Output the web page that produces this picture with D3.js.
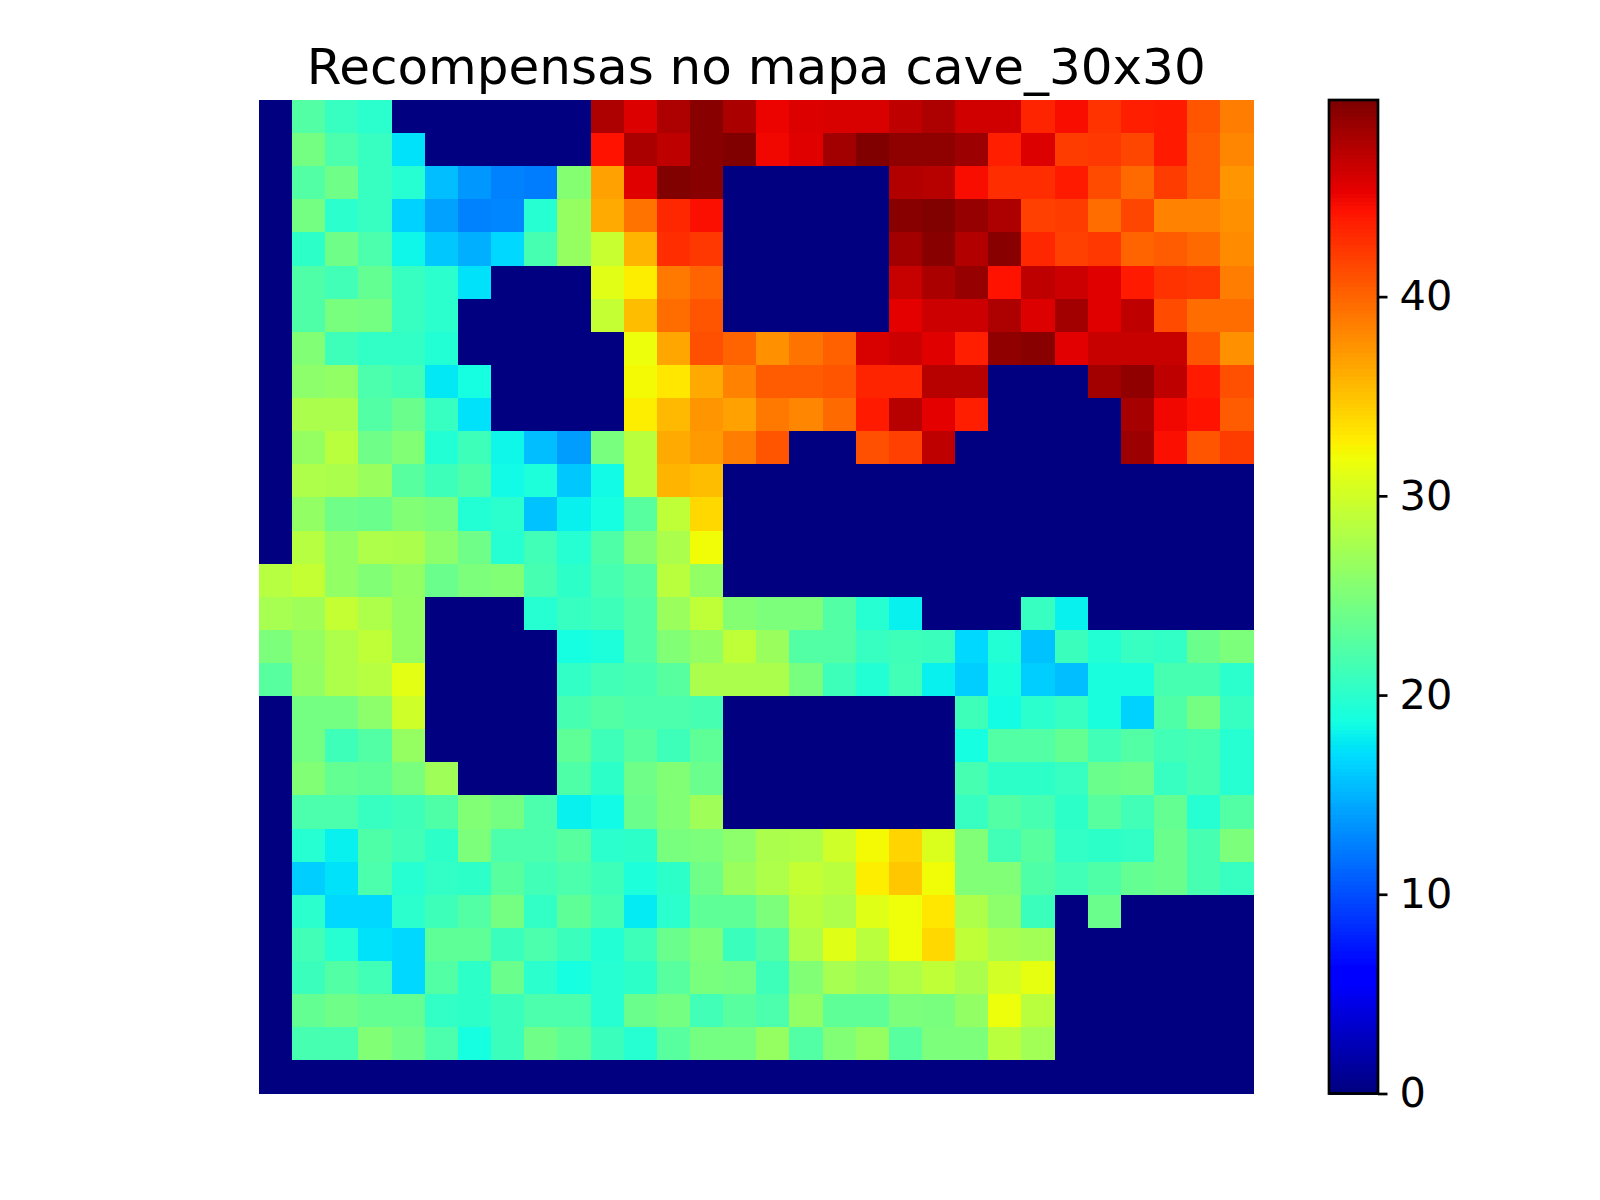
<!DOCTYPE html>
<html>
<head>
<meta charset="utf-8">
<title>Recompensas no mapa cave_30x30</title>
<script src="https://cdn.jsdelivr.net/npm/d3@7"></script>
<style>
  html, body { margin: 0; padding: 0; background: #fff; }
  text { font-family: "DejaVu Sans", sans-serif; fill: #000; }
</style>
</head>
<body>
<svg id="svg"></svg>
<script>
// Rewards, one array per map row (top to bottom)
const row00 = [0,22.5,20.7,20,0,0,0,0,0,0,47.9,45.9,47.9,49.5,48,45.2,45.9,46,46,47.2,47.9,46.4,46.4,43.5,44.7,42.7,43.8,44,40.9,38.8];
const row01 = [0,24.5,22,20.7,17.3,0,0,0,0,0,44.4,48,47.2,49.5,49.87,45,45.7,48.4,49.87,49.2,49.2,48.6,43.8,45.9,42.2,42.5,41.7,44,40.6,38.3];
const row02 = [0,22.5,24.2,20.7,19.7,15.5,13.6,12.6,12.3,25.5,36.9,45.7,49.8,49.5,0,0,0,0,0,47.7,47.5,44.7,43,43,44,41.4,39.8,42.2,40.6,37.5];
const row03 = [0,24.5,20,20.7,16.5,14.1,12.6,12.8,19.7,26.5,36.4,39.3,43.3,44.6,0,0,0,0,0,49.5,49.8,48.9,47.9,42,42.2,39.6,41.7,38.5,38.5,37.8];
const row04 = [0,20.2,24.2,22,18.3,16,14.8,16.8,21.7,26.5,29.5,35.9,43,42.5,0,0,0,0,0,48.4,49.5,47.7,49.5,43.3,42,42.5,40.1,40.6,39.8,38];
const row05 = [0,22.2,21.4,23.5,20.7,20,17.3,0,0,0,31.1,32.8,39,40.1,0,0,0,0,0,46.8,48,48.9,44.4,47.2,46.6,45.7,44,42.7,42.5,38.8];
const row06 = [0,22.2,24.8,24.5,20.7,20,0,0,0,0,29.3,35.4,39.6,40.9,0,0,0,0,0,45.5,46.6,46.6,47.9,45.9,48.4,45.7,47.2,41.4,39.6,39.6];
const row07 = [0,25.3,21.2,20.5,20.5,19.5,0,0,0,0,0,31.8,36.6,41.2,40.1,37.8,39.3,40.3,46,46.6,45.7,43.8,49.1,49.5,45.6,46.8,46.8,46.8,40.9,37.8];
const row08 = [0,26,26.3,22,21.4,17.6,18.8,0,0,0,0,32.2,33.2,36.4,38.5,40.6,40.6,40.9,43.5,43.5,47.5,47.5,0,0,0,48.4,49.1,47.2,44,41.2];
const row09 = [0,27.8,27.8,22.5,23.9,20.7,17.3,0,0,0,0,32.8,35.6,37.5,36.9,39,38.3,39.8,44,47.5,45.5,43.8,0,0,0,0,48.2,45,44.4,40.6];
const row10 = [0,26.5,28.7,24.2,25.3,19.5,21.2,18.3,15.5,13.9,24.8,28.7,36.4,37.2,38.8,40.9,0,0,41.2,42,47.2,0,0,0,0,0,48.6,44.6,40.9,42.2];
const row11 = [0,28,27.8,26.8,22.8,21.2,22.2,18.5,19.2,16,18.5,28.7,35.9,35.4,0,0,0,0,0,0,0,0,0,0,0,0,0,0,0,0];
const row12 = [0,26.3,24.2,23.9,25.3,24.8,19.5,20,15.7,18,18.8,22.8,29,34,0,0,0,0,0,0,0,0,0,0,0,0,0,0,0,0];
const row13 = [0,28.5,26.3,28,27.8,26,24.2,19.7,21.4,19.7,22.2,25.5,27.8,32,0,0,0,0,0,0,0,0,0,0,0,0,0,0,0,0];
const row14 = [28.5,29.3,26.3,25.3,26.3,23.9,25,25.3,21.7,20.2,21.7,22.8,28.7,26.3,0,0,0,0,0,0,0,0,0,0,0,0,0,0,0,0];
const row15 = [27.5,27.1,29.3,28,26.5,0,0,0,19.7,20.7,21.2,22.5,26.8,29,25.5,25,25,22.5,19.7,18,0,0,0,20.7,18,0,0,0,0,0];
const row16 = [25,26.5,28,29,26.5,0,0,0,0,18.8,19.2,22.5,25.3,26.3,29,26.8,22.5,22.5,20.7,21.2,21,16.8,19.5,15.7,21,19.5,20.7,20.5,23.9,25];
const row17 = [22.8,26.3,28,28.5,31.2,0,0,0,0,20.5,21.4,21.7,22.8,27.8,27.8,27.8,24.8,21.2,19.5,21.4,18,16.3,19,16.3,15.5,19,19,21.7,21.7,20];
const row18 = [0,24.5,24.5,26,30,0,0,0,0,21.7,22.5,22,22,21.7,0,0,0,0,0,0,0,21.2,18.6,20,20.7,19,16.5,22.2,24.5,20.7];
const row19 = [0,24.5,21.2,22.5,26.5,0,0,0,0,23.2,21.2,22.8,21.2,23.2,0,0,0,0,0,0,0,18.8,22.5,22.5,23.5,21.4,22.5,21.4,21.7,19.7];
const row20 = [0,25.3,23.5,23.2,24.8,27.1,0,0,0,22.2,20.2,24.2,25.3,23.9,0,0,0,0,0,0,0,21.7,20.2,20.2,20.7,23.9,24.2,20.7,21.7,19.7];
const row21 = [0,22,22,20.7,21.2,22.2,25.3,24.5,22,18,18.5,23.9,25.3,27.1,0,0,0,0,0,0,0,20.7,22.5,21.7,20.2,22.8,21.4,23.5,19.7,22.5];
const row22 = [0,19.7,18,22.2,21.4,20.2,25,22,22,22.8,20,20.2,24.8,25,26,27.8,28,30,32.2,34.2,30.7,25.2,21.4,22.8,20.5,20.2,20.5,23.9,21.7,25];
const row23 = [0,16.3,17.3,22,19.7,20.5,20.2,22.8,21.4,22,21.2,19.2,20.2,24.2,26.8,28,29.3,28.7,32.8,34.9,32,25.2,25.2,22.2,21.4,22.2,23.5,23.9,21.7,20.7];
const row24 = [0,20,16.8,16.8,20,21.2,22.5,24.5,20.5,23.2,21.7,17.7,20,23.2,23.2,25,28.7,28,31,31.9,33.2,28,26,21,0,23.9,0,0,0,0];
const row25 = [0,21.4,19.7,17.3,16.8,23.2,23.2,21,22,21,19.5,21.2,23.9,25,21,22.5,28,31,28.7,31.9,34,29,27.5,27.2,0,0,0,0,0,0];
const row26 = [0,21,22.5,21.4,16.8,22.5,20.2,23.9,20,18.8,19.7,20.2,22.8,24.8,24.5,21.2,25.3,27.5,26.8,28,29,27.8,30.2,31.4,0,0,0,0,0,0];
const row27 = [0,23.5,24.2,23.5,23.5,20.5,20.2,21,22,22,19.7,23.9,24.5,21.4,22.8,22,26.3,23.2,23.2,25,24.8,26.3,31.8,28.7,0,0,0,0,0,0];
const row28 = [0,21.7,21.7,25.3,24.2,22,18.8,21,24.2,23.2,21,19.7,22.8,24.5,24.5,26.5,22.5,25.3,26.5,22.8,25,25,28.7,27.2,0,0,0,0,0,0];
const row29 = [0,0,0,0,0,0,0,0,0,0,0,0,0,0,0,0,0,0,0,0,0,0,0,0,0,0,0,0,0,0];

const rewards = [row00,row01,row02,row03,row04,row05,row06,row07,row08,row09,
                 row10,row11,row12,row13,row14,row15,row16,row17,row18,row19,
                 row20,row21,row22,row23,row24,row25,row26,row27,row28,row29];

const colorbarTicks = [0, 10, 20, 30, 40];
const maxReward = 49.87;

// Jet colormap breakpoints, same segments matplotlib uses
const jetR = [[0, 0], [0.35, 0], [0.66, 1], [0.89, 1], [1, 0.5]];
const jetG = [[0, 0], [0.125, 0], [0.375, 1], [0.64, 1], [0.91, 0], [1, 0]];
const jetB = [[0, 0.5], [0.11, 1], [0.34, 1], [0.65, 0], [1, 0]];

function channel(stops) {
  return d3.scaleLinear().domain(stops.map(d => d[0])).range(stops.map(d => d[1] * 255));
}
const r = channel(jetR), g = channel(jetG), b = channel(jetB);
const jet = t => `rgb(${Math.round(r(t))},${Math.round(g(t))},${Math.round(b(t))})`;

const width = 1600;
const height = 1200;

const svg = d3.select('#svg')
  .attr('width', width)
  .attr('height', height)
  .style('display', 'block');

// Map area
const mapLeft = 259, mapRight = 1253.5, mapTop = 100, mapBottom = 1093.5;

const xScale = d3.scaleBand().domain(d3.range(30)).range([mapLeft, mapRight]);
const yScale = d3.scaleBand().domain(d3.range(30)).range([mapTop, mapBottom]);
const colorScale = d3.scaleSequential(jet).domain([0, maxReward]);

const cells = [];
rewards.forEach((row, i) => row.forEach((value, j) => cells.push({ i, j, value })));

svg.append('g')
  .selectAll('rect')
  .data(cells)
  .join('rect')
  .attr('x', d => xScale(d.j))
  .attr('y', d => yScale(d.i))
  .attr('width', xScale.bandwidth() + 0.5)
  .attr('height', yScale.bandwidth() + 0.5)
  .attr('shape-rendering', 'crispEdges')
  .attr('fill', d => colorScale(d.value));

// Title
svg.append('text')
  .attr('x', (mapLeft + mapRight) / 2)
  .attr('y', 83.5)
  .attr('text-anchor', 'middle')
  .attr('font-size', '50px')
  .text('Recompensas no mapa cave_30x30');

// Colorbar
const barLeft = 1329, barRight = 1378;
const barScale = d3.scaleLinear().domain([0, maxReward]).range([mapBottom, mapTop]);

svg.append('g')
  .selectAll('rect')
  .data(d3.range(256))
  .join('rect')
  .attr('x', barLeft)
  .attr('y', d => barScale((d + 1) / 256 * maxReward))
  .attr('width', barRight - barLeft)
  .attr('height', (mapBottom - mapTop) / 256 + 1)
  .attr('shape-rendering', 'crispEdges')
  .attr('fill', d => jet(d / 255));

svg.append('rect')
  .attr('x', barLeft)
  .attr('y', mapTop)
  .attr('width', barRight - barLeft)
  .attr('height', mapBottom - mapTop)
  .attr('fill', 'none')
  .attr('stroke', '#000')
  .attr('stroke-width', 2.7);

const barAxis = d3.axisRight(barScale)
  .tickValues(colorbarTicks)
  .tickSize(9.5)
  .tickPadding(12)
  .tickFormat(d3.format('d'));

const axisG = svg.append('g')
  .attr('transform', `translate(${barRight}, 0)`)
  .call(barAxis);

axisG.select('.domain').remove();
axisG.selectAll('line').attr('stroke', '#000').attr('stroke-width', 2.7);
axisG.selectAll('text').attr('font-size', '41.5px').attr('font-family', '"DejaVu Sans", sans-serif');
</script>
</body>
</html>
